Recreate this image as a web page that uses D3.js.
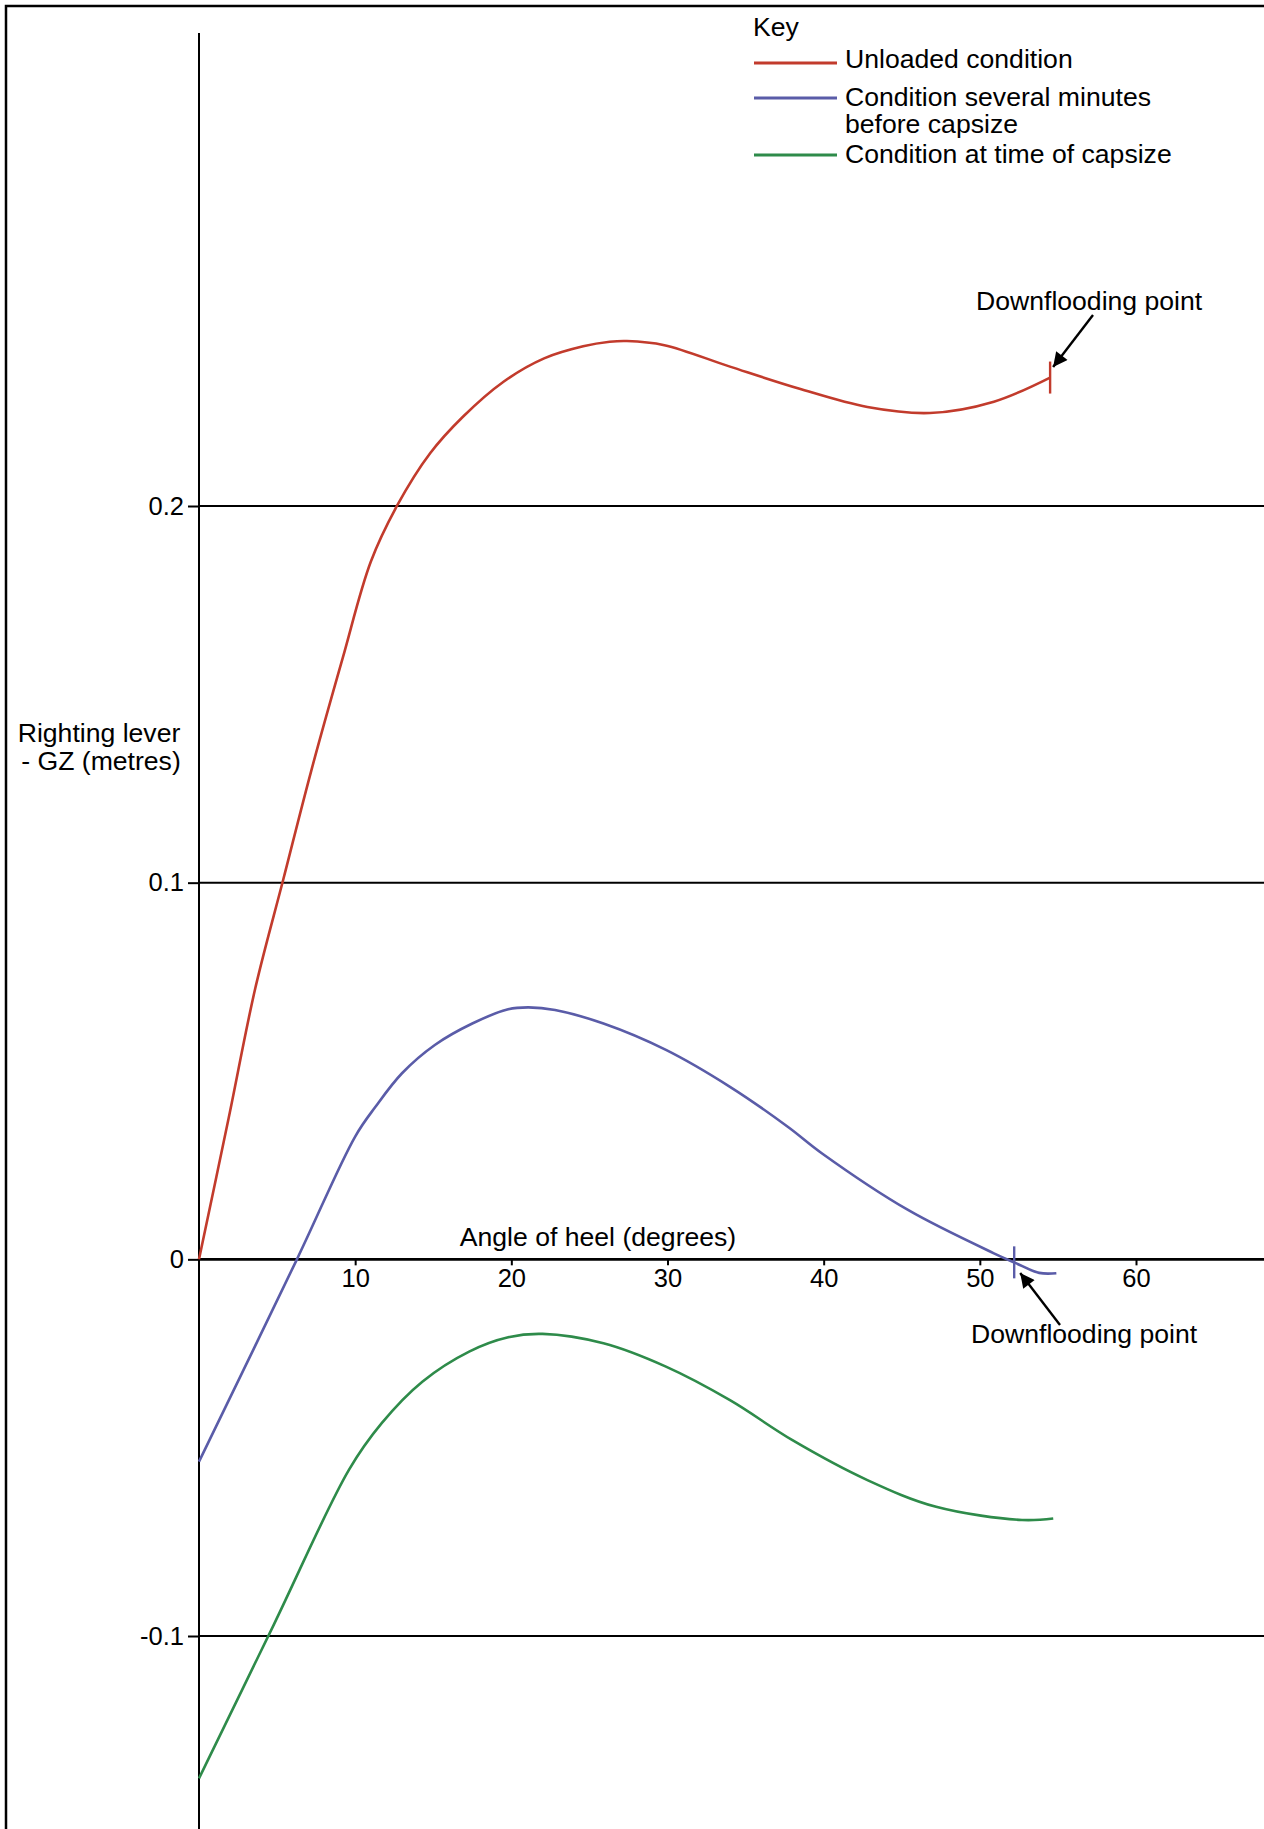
<!DOCTYPE html>
<html>
<head>
<meta charset="utf-8">
<script src="https://cdn.jsdelivr.net/npm/d3@7"></script>
<style>
  html, body { margin: 0; padding: 0; background: #fff; overflow: hidden; }
  svg { display: block; font-family: "Liberation Sans", Arial, sans-serif; }
</style>
</head>
<body>
<svg id="canvas" width="1264" height="1829"></svg>
<script>
// Data (angle of heel in degrees, GZ in metres).
const unloadedAngles = [0, 1.9, 3.6, 5.4, 7.2, 9.2, 11.0, 12.7, 14.8, 16.9, 19.5, 22.1, 24.6, 26.3, 27.4, 29.8, 34.0, 38.4, 42.8, 46.8, 50.9, 54.5];
const unloadedGZ     = [0, 0.0375, 0.0719, 0.1009, 0.1299, 0.1596, 0.1852, 0.2002, 0.214, 0.2237, 0.233, 0.2392, 0.2424, 0.2436, 0.2438, 0.2427, 0.237, 0.2312, 0.2263, 0.2247, 0.2277, 0.2341];

const beforeAngles = [0, 6.27, 10.0, 11.3, 13.0, 15.1, 17.5, 19.8, 21.1, 22.8, 25.9, 29.9, 34.0, 37.7, 39.9, 45.4, 50.9, 52.3, 53.8, 54.9];
const beforeGZ     = [-0.0537, 0, 0.0326, 0.0405, 0.0494, 0.0569, 0.0626, 0.0664, 0.0669, 0.0662, 0.0626, 0.0556, 0.0458, 0.0352, 0.0281, 0.0131, 0.0016, -0.001, -0.0036, -0.0037];

const capsizeAngles = [0, 4.8, 9.6, 11.7, 14.3, 17.3, 19.8, 22.0, 25.9, 29.9, 34.0, 38.0, 42.8, 47.2, 52.7, 54.7];
const capsizeGZ     = [-0.1378, -0.0969, -0.0559, -0.0435, -0.0325, -0.0245, -0.0207, -0.0198, -0.0223, -0.0285, -0.0374, -0.048, -0.0586, -0.0657, -0.0692, -0.0688];

const seriesNames  = ["Unloaded condition", "Condition several minutes|before capsize", "Condition at time of capsize"];
const seriesColors = ["#c23b2c", "#5a5ca8", "#2e8b4a"];

const xTicks = [10, 20, 30, 40, 50, 60];
const yTicks = [-0.1, 0, 0.1, 0.2];

// Downflooding points: [angle, GZ]
const downflooding = [[54.5, 0.2341], [52.2, -0.0008]];

const canvas = d3.select("#canvas");
const width = 1264, height = 1829;
const FONT = 26.6;

const x = d3.scaleLinear().domain([0, 60]).range([199, 1136]);
const y = d3.scaleLinear().domain([-0.1, 0.2]).range([1636, 506]);

// Outer frame.
canvas.append("rect")
    .attr("x", 6).attr("y", 6)
    .attr("width", 1400).attr("height", 2000)
    .attr("fill", "none").attr("stroke", "#000").attr("stroke-width", 2.5);

// Horizontal lines (gridlines + zero axis) run to the right edge.
canvas.selectAll("line.grid")
    .data(yTicks)
    .enter().append("line")
    .classed("grid", true)
    .attr("x1", x(0)).attr("x2", width)
    .attr("y1", d => y(d)).attr("y2", d => y(d))
    .attr("stroke", "#000")
    .attr("stroke-width", d => d === 0 ? 2.8 : 2);

// Vertical axis line.
canvas.append("line")
    .attr("x1", x(0)).attr("x2", x(0))
    .attr("y1", 33).attr("y2", height)
    .attr("stroke", "#000").attr("stroke-width", 2);

// Axes (ticks and labels only).
const xAxis = canvas.append("g")
    .attr("transform", `translate(0,${y(0)})`)
    .call(d3.axisBottom(x).tickValues(xTicks).tickSize(6).tickPadding(4));
xAxis.select(".domain").remove();

const yAxis = canvas.append("g")
    .attr("transform", `translate(${x(0)},0)`)
    .call(d3.axisLeft(y).tickValues(yTicks).tickSize(11).tickPadding(4)
        .tickFormat(d => d === 0 ? "0" : String(d)));
yAxis.select(".domain").remove();

canvas.selectAll(".tick line").attr("stroke", "#000").attr("stroke-width", 2);
canvas.selectAll(".tick text")
    .attr("fill", "#000")
    .attr("font-size", 25.5)
    .attr("font-family", "Liberation Sans, Arial, sans-serif");

// Axis titles.
canvas.append("text")
    .attr("x", 598).attr("y", 1246)
    .attr("text-anchor", "middle")
    .attr("font-size", FONT)
    .text("Angle of heel (degrees)");

canvas.append("text")
    .attr("x", 99).attr("y", 742)
    .attr("text-anchor", "middle")
    .attr("font-size", FONT)
    .text("Righting lever");
canvas.append("text")
    .attr("x", 101).attr("y", 770)
    .attr("text-anchor", "middle")
    .attr("font-size", FONT)
    .text("- GZ (metres)");

// Curves.
const line = d3.line()
    .x(d => x(d[0]))
    .y(d => y(d[1]))
    .curve(d3.curveCatmullRom.alpha(0.5));

const series = [
    d3.zip(unloadedAngles, unloadedGZ),
    d3.zip(beforeAngles, beforeGZ),
    d3.zip(capsizeAngles, capsizeGZ)
];

canvas.selectAll("path.curve")
    .data(series)
    .enter().append("path")
    .classed("curve", true)
    .attr("d", line)
    .attr("fill", "none")
    .attr("stroke", (d, i) => seriesColors[i])
    .attr("stroke-width", 2.6);

// Downflooding markers.
canvas.selectAll("line.flood")
    .data(downflooding)
    .enter().append("line")
    .classed("flood", true)
    .attr("x1", d => x(d[0])).attr("x2", d => x(d[0]))
    .attr("y1", d => y(d[1]) - 16).attr("y2", d => y(d[1]) + 16)
    .attr("stroke", (d, i) => seriesColors[i])
    .attr("stroke-width", 2.4);

// Arrow heads.
canvas.append("defs").append("marker")
    .attr("id", "arrow")
    .attr("viewBox", "0 0 10 10")
    .attr("refX", 10).attr("refY", 5)
    .attr("markerWidth", 7).attr("markerHeight", 6)
    .attr("markerUnits", "strokeWidth")
    .attr("orient", "auto")
    .append("path")
    .attr("d", "M0,0 L10,5 L0,10 Z")
    .attr("fill", "#000");

const arrows = [
    { x1: 1093, y1: 315, x2: x(downflooding[0][0]) + 3, y2: 367 },
    { x1: 1060, y1: 1325, x2: x(downflooding[1][0]) + 6, y2: 1273 }
];
canvas.selectAll("line.arrow")
    .data(arrows)
    .enter().append("line")
    .classed("arrow", true)
    .attr("x1", d => d.x1).attr("y1", d => d.y1)
    .attr("x2", d => d.x2).attr("y2", d => d.y2)
    .attr("stroke", "#000").attr("stroke-width", 2.4)
    .attr("marker-end", "url(#arrow)");

canvas.append("text")
    .attr("x", 976).attr("y", 310)
    .attr("font-size", FONT)
    .text("Downflooding point");
canvas.append("text")
    .attr("x", 971).attr("y", 1343)
    .attr("font-size", FONT)
    .text("Downflooding point");

// Legend.
const legend = canvas.append("g");
legend.append("text")
    .attr("x", 753).attr("y", 36)
    .attr("font-size", FONT)
    .text("Key");

const legendLineY = [63, 98, 155];
const legendTextY = [68, 106, 163];

seriesNames.forEach((name, i) => {
    legend.append("line")
        .attr("x1", 754).attr("x2", 837)
        .attr("y1", legendLineY[i]).attr("y2", legendLineY[i])
        .attr("stroke", seriesColors[i]).attr("stroke-width", 3);
    name.split("|").forEach((part, j) => {
        legend.append("text")
            .attr("x", 845)
            .attr("y", legendTextY[i] + j * 27)
            .attr("font-size", FONT)
            .text(part);
    });
});
</script>
</body>
</html>
